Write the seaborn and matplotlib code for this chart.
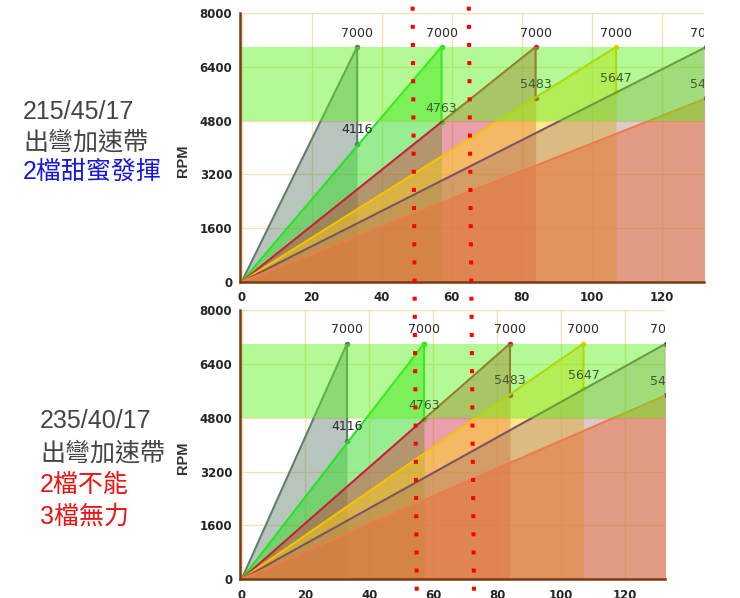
import numpy as np
import pandas as pd
import matplotlib
matplotlib.use("Agg")
import matplotlib.pyplot as plt
from matplotlib.lines import Line2D
import seaborn as sns

# gear speeds (km/h) at the 7000 rpm redline, and rpm after shifting up
gears = ["1", "2", "3", "4", "5", "6"]
redline = 7000
top_speed = [33.0, 57.1, 84.0, 107.0, 132.8, 170.0]
shift_rpm = [4116, 4763, 5483, 5647, 5470, None]

line_colors = ["#5e7d6c", "#22e622", "#c8203c", "#f5c400", "#7a5464", "#f07a48"]
fill_colors = ["#62806e", "#33dd22", "#d42a46", "#ffd21e", "#98686e", "#e8703c"]
fill_alpha = [0.45, 0.5, 0.45, 0.5, 0.35, 0.5]

band_low, band_high = 4800, 7000
x_ticks = [0, 20, 40, 60, 80, 100, 120]
y_ticks = [0, 1600, 3200, 4800, 6400, 8000]

# speeds where the red dotted markers cross each chart's x axis
marks_top = [49.4, 65.6]
marks_bottom = [54.8, 72.7]

top_lines = [("215/45/17", "#454545"), ("出彎加速帶", "#454545"), ("2檔甜蜜發揮", "#1515e0")]
bottom_lines = [("235/40/17", "#454545"), ("出彎加速帶", "#454545"),
                ("2檔不能", "#ee1111"), ("3檔無力", "#ee1111")]

sns.set_theme(style="white")
plt.rcParams["font.family"] = ["DejaVu Sans", "Noto Sans CJK TC"]

rows = []
for g, v, s in zip(gears, top_speed, shift_rpm):
    rows.append((g, 0.0, 0.0))
    rows.append((g, v, redline))
    if s is not None:
        rows.append((g, v, s))
df = pd.DataFrame(rows, columns=["gear", "speed", "rpm"])


def label_color(val):
    # labels sitting inside the green band look tinted
    return "#405a30" if band_low <= val + 410 <= band_high else "#2a2a2a"


def draw_chart(ax, xmax):
    for i, g in enumerate(gears):
        d = df[df["gear"] == g]
        ax.fill_between(d["speed"], d["rpm"], 0, color=fill_colors[i],
                        alpha=fill_alpha[i], linewidth=0, zorder=2 + i * 0.01)
    sns.lineplot(data=df, x="speed", y="rpm", hue="gear", palette=line_colors,
                 sort=False, estimator=None, marker="o", markersize=4,
                 markeredgewidth=0, linewidth=1.5, legend=False, ax=ax, zorder=3)
    ax.axhspan(band_low, band_high, color="#58f416", alpha=0.45, linewidth=0, zorder=5)
    for v, s in zip(top_speed, shift_rpm):
        ax.text(v, redline + 410, str(redline), ha="center", va="center",
                fontsize=9, color="#2a2a2a", clip_on=True, zorder=6)
        if s is not None:
            ax.text(v, s + 410, str(s), ha="center", va="center",
                    fontsize=9, color=label_color(s), clip_on=True, zorder=6)

    ax.set_xlim(-0.5, xmax)
    ax.set_ylim(0, 8000)
    ax.set_xticks(x_ticks)
    ax.set_yticks(y_ticks)
    ax.grid(True, color="#f4e2b4", linewidth=1.0)
    ax.set_axisbelow(True)
    for side in ["top", "right"]:
        ax.spines[side].set_visible(False)
    for side in ["left", "bottom"]:
        ax.spines[side].set_color("#7b3a12")
        ax.spines[side].set_linewidth(1.8)
        ax.spines[side].set_zorder(7)
    ax.tick_params(axis="y", direction="out", length=4.5, width=1.2,
                   color="#7b3a12", pad=1, labelsize=8.5, labelcolor="#262626")
    ax.tick_params(axis="x", direction="out", length=3, width=1.2,
                   color="#7b3a12", pad=4, labelsize=8.5, labelcolor="#262626")
    for lab in ax.get_xticklabels() + ax.get_yticklabels():
        lab.set_fontweight("bold")
    ax.set_xlabel("")
    ax.set_ylabel("RPM", fontsize=10.5, color="#333333", fontweight="bold",
                  family=["Liberation Sans", "DejaVu Sans"])
    ax.yaxis.set_label_coords(-0.108 * 464.3 / (ax.get_position().width * 740), 0.45)


fig = plt.figure(figsize=(7.4, 5.98), dpi=100)
ax_top = fig.add_axes([0.3243, 0.5289, 0.6274, 0.4488])
ax_bot = fig.add_axes([0.3243, 0.0313, 0.5743, 0.4503])
draw_chart(ax_top, 132.2)
draw_chart(ax_bot, 132.5)

# red dotted guides running through both charts
W, H = 740.0, 598.0
for st, sb in zip(marks_top, marks_bottom):
    x1, y1 = ax_top.transData.transform((st, 0))
    x2, y2 = ax_bot.transData.transform((sb, 0))
    slope = (x2 - x1) / (y2 - y1)
    y_start, y_end = H - 6.7, 0.0
    xs = [x1 + slope * (y_start - y1), x1 + slope * (y_end - y1)]
    ln = Line2D([xs[0] / W, xs[1] / W], [y_start / H, y_end / H],
                transform=fig.transFigure, color="#ff0000", linewidth=2.9,
                linestyle=(0, (1, 3.5)), dash_capstyle="butt", zorder=10)
    fig.add_artist(ln)

side_font = ["Liberation Sans", "Noto Sans CJK TC"]
for k, (txt, col) in enumerate(top_lines):
    fig.text(23 / W, 1 - (112 + 30 * k) / H, txt, color=col, fontsize=18,
             family=side_font, ha="left", va="center")
for k, (txt, col) in enumerate(bottom_lines):
    fig.text(40 / W, 1 - (421 + 32 * k) / H, txt, color=col, fontsize=18,
             family=side_font, ha="left", va="center")

fig.savefig("out.png", dpi=100)
